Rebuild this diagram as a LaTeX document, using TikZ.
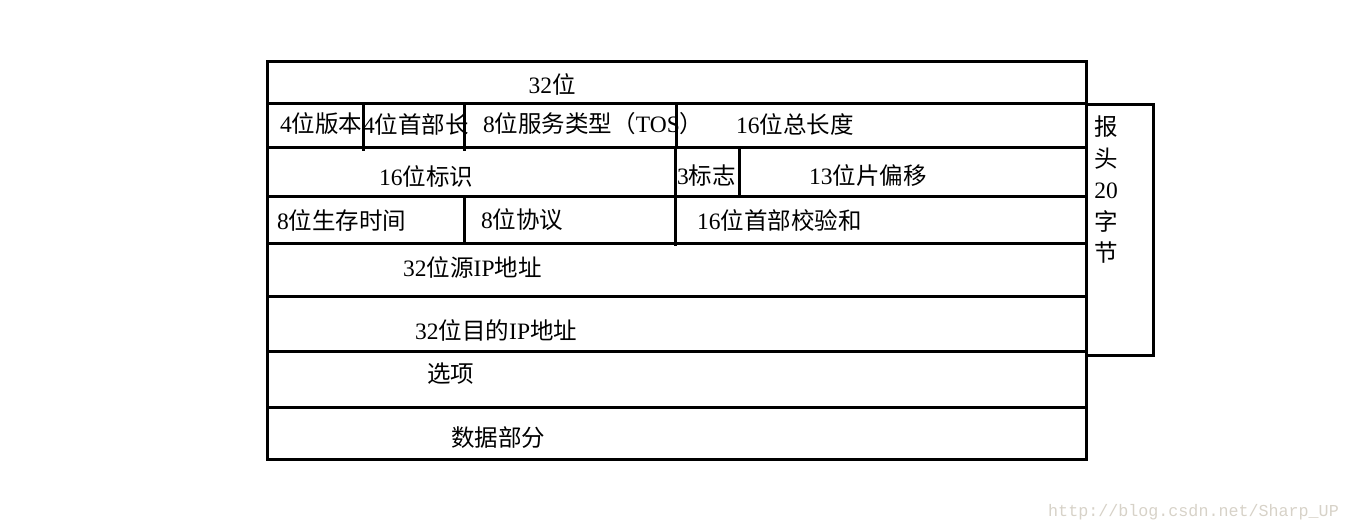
\documentclass[tikz,border=0pt]{standalone}
\usepackage{fontspec}
\setmainfont{Liberation Serif}
\newfontfamily\cjk{Noto Sans CJK SC}
\newfontfamily\wmfont{Liberation Mono}
\begin{document}
\begin{tikzpicture}[x=1pt,y=-1pt,
  grid/.style={line width=3pt,line cap=rect},
  lbl/.style={anchor=west,inner sep=0pt,font=\fontsize{23.5}{28}\selectfont},
  clbl/.style={anchor=center,inner sep=0pt,font=\fontsize{23.5}{28}\selectfont}]
\useasboundingbox (0,0) rectangle (1350,531);
% outer frame and rows
\draw[grid] (267,61) rectangle (1086,459);
\foreach \y in {103,147,196,243,296,351,407} \draw[grid] (267,\y) -- (1086,\y);
% row 2 separators
\draw[grid] (363,103) -- (363,149);
\draw[grid] (464,103) -- (464,149);
\draw[grid] (676,103) -- (676,147);
% row 3 separators
\draw[grid] (675,147) -- (675,196);
\draw[grid] (739,147) -- (739,196);
% row 4 separators
\draw[grid] (464,196) -- (464,243);
\draw[grid] (675,196) -- (675,244);
% header bracket box
\draw[grid] (1086,104) -- (1153,104) -- (1153,355) -- (1086,355);
% labels
\node[clbl] (t32) at (552,84) {32\cjk 位};
\node[lbl] (ver) at (280,124) {4{\cjk 位版本}};
\node[lbl] (ihl) at (363,124) {4{\cjk 位首部长}};
\node[lbl] (tos) at (483,124) {8{\cjk 位服务类型（}TOS{\cjk ）}};
\node[lbl] (len) at (736,124) {16{\cjk 位总长度}};
\node[lbl] (id) at (379,176) {16{\cjk 位标识}};
\node[lbl] (flg) at (677,176) {3{\cjk 标志}};
\node[lbl] (off) at (809,176) {13{\cjk 位片偏移}};
\node[lbl] (ttl) at (277,220) {8{\cjk 位生存时间}};
\node[lbl] (pro) at (481,220) {8{\cjk 位协议}};
\node[lbl] (chk) at (697,220) {16{\cjk 位首部校验和}};
\node[lbl] (src) at (403,267) {32{\cjk 位源}IP{\cjk 地址}};
\node[lbl] (dst) at (415,330) {32{\cjk 位目的}IP{\cjk 地址}};
\node[lbl] (opt) at (427,374) {\cjk 选项};
\node[lbl] (dat) at (451,438) {\cjk 数据部分};
\node[anchor=center,inner sep=0pt,align=center,
  font=\fontsize{23.5}{31.5}\selectfont] (hdr) at (1106,190)
  {{\cjk 报}\\{\cjk 头}\\20\\{\cjk 字}\\{\cjk 节}};
\node[anchor=west,inner sep=0pt,text={rgb,255:red,215;green,210;blue,200},
  font=\wmfont\fontsize{16.7}{20}\selectfont] (wm) at (1048,512)
  {http://blog.csdn.net/Sharp\_UP};
\end{tikzpicture}
\end{document}
